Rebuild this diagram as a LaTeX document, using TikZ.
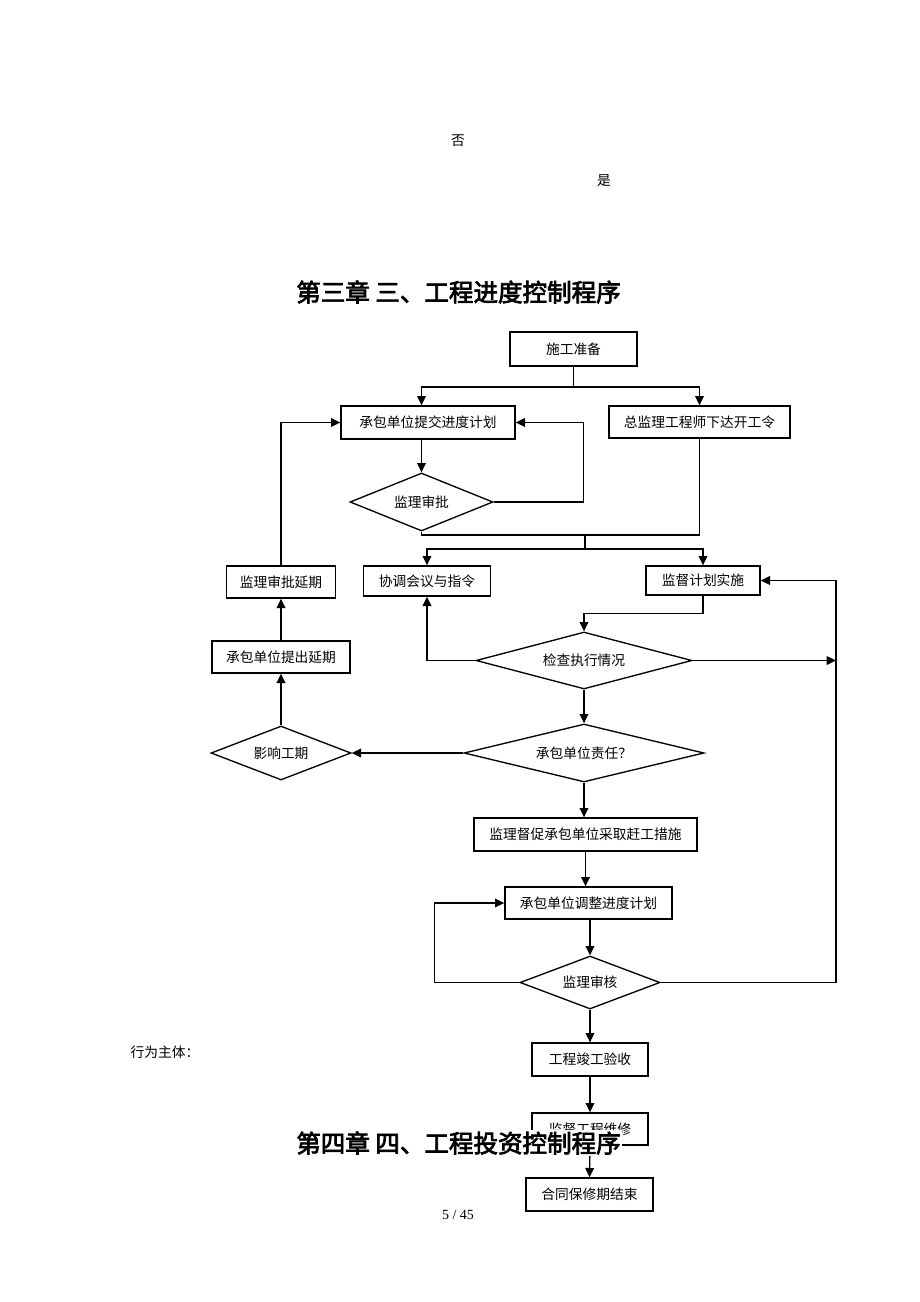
\documentclass[tikz,border=0pt]{standalone}
\usepackage{fontspec}
\usetikzlibrary{shapes.geometric,arrows.meta}
\setmainfont{Liberation Serif}
\newfontfamily\cjk{Noto Sans CJK SC}
\newfontfamily\cjkbold[FakeBold=3]{Noto Sans CJK SC}
\tikzset{
	flowbox/.style={draw, line width=1pt, inner sep=0pt, font=\cjk\fontsize{10.3}{12}\selectfont},
	flowdiam/.style={flowbox, diamond, aspect=2.5},
	boxsize/.style 2 args={minimum width=#1*0.75pt, minimum height=#2*0.75pt},
	flowline/.style={line width=1pt},
	flowarr/.style={line width=1pt, -{Triangle[length=7pt,width=6.5pt]}},
	plaintext/.style={font=\cjk\fontsize{10.3}{12}\selectfont},
	chaptitle/.style={font=\cjkbold\fontsize{18.4}{22}\selectfont, inner sep=1pt}
}

\begin{document}
\begin{tikzpicture}[x=0.75pt, y=-0.75pt]
		\useasboundingbox (0,0) rectangle (920,1302);
		% stray labels and headings
		\node[plaintext] (no) at (458,141) {否};
		\node[plaintext] (yes) at (604,181) {是};
		\node[chaptitle] (title3) at (458.5,292) {第三章 三、工程进度控制程序};
		\node[plaintext, anchor=west] (actor) at (126,1052) {行为主体：};
		\node[font=\fontsize{10.5}{12}\selectfont] (page) at (458,1215) {5 / 45};
		% boxes
		\node[flowbox, boxsize={127}{34}] (prep) at (573.5,349) {施工准备};
		\node[flowbox, boxsize={174}{33}] (submit) at (428,422.5) {承包单位提交进度计划};
		\node[flowbox, boxsize={181}{32}] (order) at (699.5,422) {总监理工程师下达开工令};
		\node[flowdiam, boxsize={143}{58}] (approve) at (421.5,502) {监理审批};
		\node[flowbox, boxsize={127}{30}] (meeting) at (427,581) {协调会议与指令};
		\node[flowbox, boxsize={114}{29}] (supervise) at (703,580.5) {监督计划实施};
		\node[flowbox, boxsize={109}{32}] (extapp) at (281,582) {监理审批延期};
		\node[flowbox, boxsize={138}{32}] (extreq) at (281,657) {承包单位提出延期};
		\node[flowdiam, boxsize={140}{54}] (impact) at (281,753) {影响工期};
		\node[flowdiam, boxsize={216}{57}] (check) at (584,660.5) {检查执行情况};
		\node[flowdiam, boxsize={240}{58}] (resp) at (584,753) {承包单位责任？};
		\node[flowbox, boxsize={223}{33}] (urge) at (585.5,834.5) {监理督促承包单位采取赶工措施};
		\node[flowbox, boxsize={167}{32}] (adjust) at (588.5,903) {承包单位调整进度计划};
		\node[flowdiam, boxsize={140}{53}] (review) at (590,982.5) {监理审核};
		\node[flowbox, boxsize={116}{33}] (accept) at (590,1059.5) {工程竣工验收};
		\node[flowbox, boxsize={116}{32}] (repair) at (590,1129) {监督工程维修};
		\node[flowbox, boxsize={127}{33}] (finish) at (589.5,1194.5) {合同保修期结束};
		\coordinate (splitA) at (573.5,387);
		\coordinate (joinA) at (585,535);
		\coordinate (joinB) at (585,549);
		\coordinate (railx) at (836,0);
		% connectors
		\draw[flowline] (prep) -- (splitA);
		\draw[flowarr] (splitA) -| (approve.north |- submit.north);
		\draw[flowarr] (splitA) -| (order.north);
		\draw[flowarr] (approve.north |- submit.south) -- (approve.north);
		\draw[flowarr] (approve.east) -- ++(90,0) |- (submit.east);
		\draw[flowline] (approve.south) |- (order.south |- joinA) -- (order.south);
		\draw[flowline] (joinA) -- (joinB);
		\draw[flowarr] (joinB) -| (meeting.north);
		\draw[flowarr] (joinB) -| (supervise.north);
		\draw[flowarr] (supervise.south) -- ++(0,18) -| (check.north);
		\draw[flowarr] (check.west) -| (meeting.south);
		\draw[flowarr] (check.east) -- (check.east -| railx);
		\draw[flowarr] (review.east) -| (supervise.east -| railx) -- (supervise.east);
		\draw[flowarr] (check.south) -- (resp.north);
		\draw[flowarr] (resp.west) -- (impact.east);
		\draw[flowarr] (impact.north) -- (extreq.south);
		\draw[flowarr] (extreq.north) -- (extapp.south);
		\draw[flowarr] (extapp.north) |- (submit.west);
		\draw[flowarr] (resp.south) -- (resp.south |- urge.north);
		\draw[flowarr] (urge.south) -- (urge.south |- adjust.north);
		\draw[flowarr] (review.north |- adjust.south) -- (review.north);
		\draw[flowarr] (review.west) -- ++(-85,0) |- (adjust.west);
		\draw[flowarr] (review.south) -- (accept.north);
		\draw[flowarr] (accept.south) -- (repair.north);
		\draw[flowarr] (repair.south) -- (finish.north);
		% heading laid over the last boxes
		\node[chaptitle, fill=white] (title4) at (458.5,1143) {第四章 四、工程投资控制程序};
	\end{tikzpicture}
\end{document}
